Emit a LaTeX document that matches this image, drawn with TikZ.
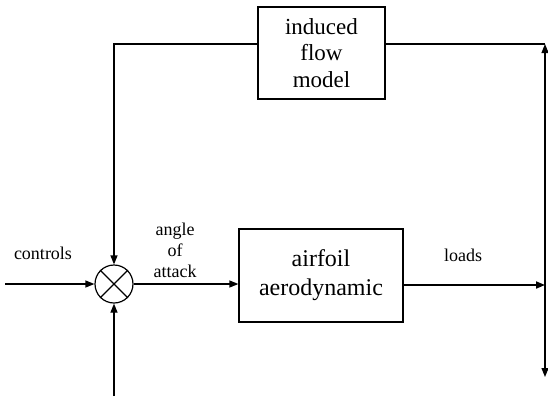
\documentclass[tikz,border=0pt]{standalone}
\usepackage{fontspec}
\setmainfont{Liberation Serif}
\usetikzlibrary{arrows.meta}
\begin{document}
\begin{tikzpicture}[x=1pt,y=1pt,
  line width=1.2pt,
  tip/.style={-{Triangle[length=9pt,width=7pt]}},
  blockbox/.style={draw,rectangle,inner sep=0pt,align=center,font=\fontsize{23}{27}\selectfont},
  lbl/.style={align=center,inner sep=0pt,font=\fontsize{18}{22}\selectfont}]
\useasboundingbox (0,0) rectangle (548,-402);
% blocks
\node[blockbox,minimum width=127pt,minimum height=92pt] (ind) at (321.5,-53) {induced\\[-0.5pt]flow\\[-0.5pt]model};
\node[blockbox,minimum width=164pt,minimum height=93pt,font=\fontsize{24}{29}\selectfont] (air) at (321,-275.5) {airfoil\\aerodynamic};
\node[draw,circle,minimum size=38pt,inner sep=0pt] (sum) at (114,-284) {};
\draw (sum.north east) -- (sum.south west);
\draw (sum.north west) -- (sum.south east);
% coordinates
\coordinate (tl) at (114,-44);
\coordinate (tr) at (545,-44);
\coordinate (br) at (545,-377);
\coordinate (cin) at (5,-284);
\coordinate (bin) at (114,-396);
\coordinate (lo) at (545,-285);
% connectors
\draw[tip] (ind.west |- tl) -- (tl) -- (sum.north);
\draw (ind.east |- tr) -- (tr);
\draw[{Triangle[length=9pt,width=7pt]}-{Triangle[length=9pt,width=7pt]}] (tr) -- (br);
\draw[tip] (cin) -- (sum.west);
\draw[tip] (bin) -- (sum.south);
\draw[tip] (sum.east) -- (air.west |- sum.east);
\draw[tip,line width=1.8pt] (air.east |- lo) -- (lo);
% labels
\node[lbl] (ctl) at (43,-253) {controls};
\node[lbl] (aoa) at (175,-250) {angle\\[-1pt]of\\[-1pt]attack};
\node[lbl] (lds) at (463,-255) {loads};
\end{tikzpicture}
\end{document}
